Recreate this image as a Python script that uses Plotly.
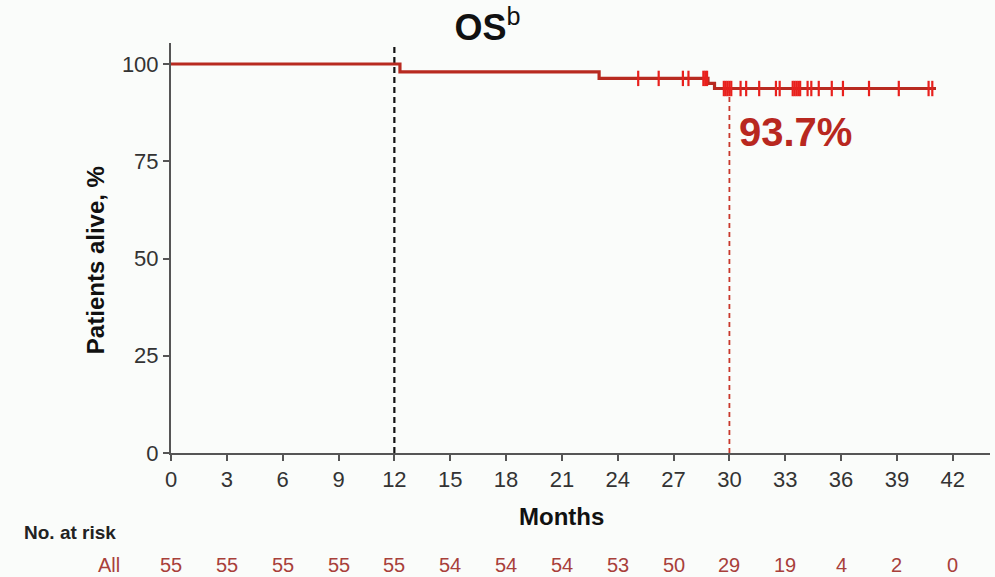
import plotly.graph_objects as go

# Kaplan-Meier step data (OS)
event_months = [0, 12.3, 23.0, 28.85, 29.2, 41.1]
survival_pct = [100, 98.0, 96.3, 95.0, 93.7, 93.7]

censor_months = [25.1, 26.2, 27.5, 27.8, 28.6, 28.7, 28.8, 29.7, 29.8, 29.9, 30.0, 30.1,
                 30.6, 30.9, 31.6, 32.5, 32.7, 33.4, 33.5, 33.6, 33.7, 33.8, 34.2, 34.4,
                 34.8, 35.5, 36.1, 37.5, 39.1, 40.7, 40.9]

x_ticks = [0, 3, 6, 9, 12, 15, 18, 21, 24, 27, 30, 33, 36, 39, 42]
y_ticks = [0, 25, 50, 75, 100]
at_risk = [55, 55, 55, 55, 55, 54, 54, 54, 53, 50, 29, 19, 4, 2, 0]

landmark_month = 12
os_month = 30
os_value = 93.7
os_label = "93.7%"


def surv_at(t):
    s = survival_pct[0]
    for et, sv in zip(event_months, survival_pct):
        if et <= t:
            s = sv
    return s


censor_y = [surv_at(t) for t in censor_months]

FONT = "Liberation Sans, Arial, sans-serif"
LINE_RED = "#b82a20"
MARK_RED = "#e8201c"
TEXT_RED = "#b8281f"
RISK_RED = "#a8403a"

fig = go.Figure()

# dashed reference lines
fig.add_trace(go.Scatter(x=[landmark_month, landmark_month], y=[0, 105.4], mode="lines",
                         line=dict(color="#111111", width=2.2, dash="6px,4px"),
                         hoverinfo="skip", showlegend=False))
fig.add_trace(go.Scatter(x=[os_month, os_month], y=[0, os_value], mode="lines",
                         line=dict(color="#c8382c", width=1.8, dash="5px,4px"),
                         hoverinfo="skip", showlegend=False))

# KM curve
fig.add_trace(go.Scatter(x=event_months, y=survival_pct, mode="lines",
                         line=dict(color=LINE_RED, width=3.2, shape="hv"),
                         showlegend=False))
# censor marks
fig.add_trace(go.Scatter(x=censor_months, y=censor_y, mode="markers",
                         marker=dict(symbol="line-ns", size=11,
                                     line=dict(color=MARK_RED, width=2.2)),
                         showlegend=False))

annotations = []
annotations.append(dict(x=os_month + 0.4, y=82.5, xref="x", yref="y", text=f"<b>{os_label}</b>",
                        showarrow=False, xanchor="left", yanchor="middle",
                        font=dict(family=FONT, size=40, color=TEXT_RED)))
annotations.append(dict(x=21.0, y=-0.156, xref="paper" if False else "x", yref="paper", text="<b>Months</b>",
                        showarrow=False, xanchor="center", yanchor="middle",
                        font=dict(family=FONT, size=24, color="#111111")))
annotations.append(dict(x=-0.093, y=0.47, xref="paper", yref="paper", text="<b>Patients alive, %</b>",
                        showarrow=False, textangle=-90, xanchor="center", yanchor="middle",
                        font=dict(family=FONT, size=24, color="#111111")))
annotations.append(dict(x=-0.182, y=-0.193, xref="paper", yref="paper", text="<b>No. at risk</b>",
                        showarrow=False, xanchor="left", yanchor="middle",
                        font=dict(family=FONT, size=19, color="#222222")))
annotations.append(dict(x=-0.0598, y=-0.273, xref="paper", yref="paper", text="All",
                        showarrow=False, xanchor="right", yanchor="middle",
                        font=dict(family=FONT, size=20, color=RISK_RED)))
for xt, n in zip(x_ticks, at_risk):
    annotations.append(dict(x=xt, y=-0.273, xref="x", yref="paper", text=str(n),
                            showarrow=False, xanchor="center", yanchor="middle",
                            font=dict(family=FONT, size=20, color=RISK_RED)))

fig.update_layout(
    width=995, height=577,
    margin=dict(l=171, r=5, t=43, b=124),
    paper_bgcolor="#fafcfa", plot_bgcolor="#fafcfa",
    title=dict(text="<b>OS</b><sup>b</sup>", x=0.49, xanchor="center", y=0.953, yanchor="middle",
               font=dict(family=FONT, size=36, color="#111111")),
    annotations=annotations,
    showlegend=False,
)
fig.update_xaxes(range=[0, 44], tickvals=x_ticks, ticktext=[str(v) for v in x_ticks],
                 showgrid=False, zeroline=False, showline=True, linecolor="#555555", linewidth=2,
                 ticks="outside", ticklen=6, tickwidth=2, tickcolor="#555555",
                 tickfont=dict(family=FONT, size=22, color="#333333"))
fig.update_yaxes(range=[0, 105.4], tickvals=y_ticks, ticktext=[str(v) for v in y_ticks],
                 showgrid=False, zeroline=False, showline=True, linecolor="#555555", linewidth=2,
                 ticks="outside", ticklen=6, tickwidth=2, tickcolor="#555555",
                 tickfont=dict(family=FONT, size=22, color="#333333"))

fig.write_html("out.html")
